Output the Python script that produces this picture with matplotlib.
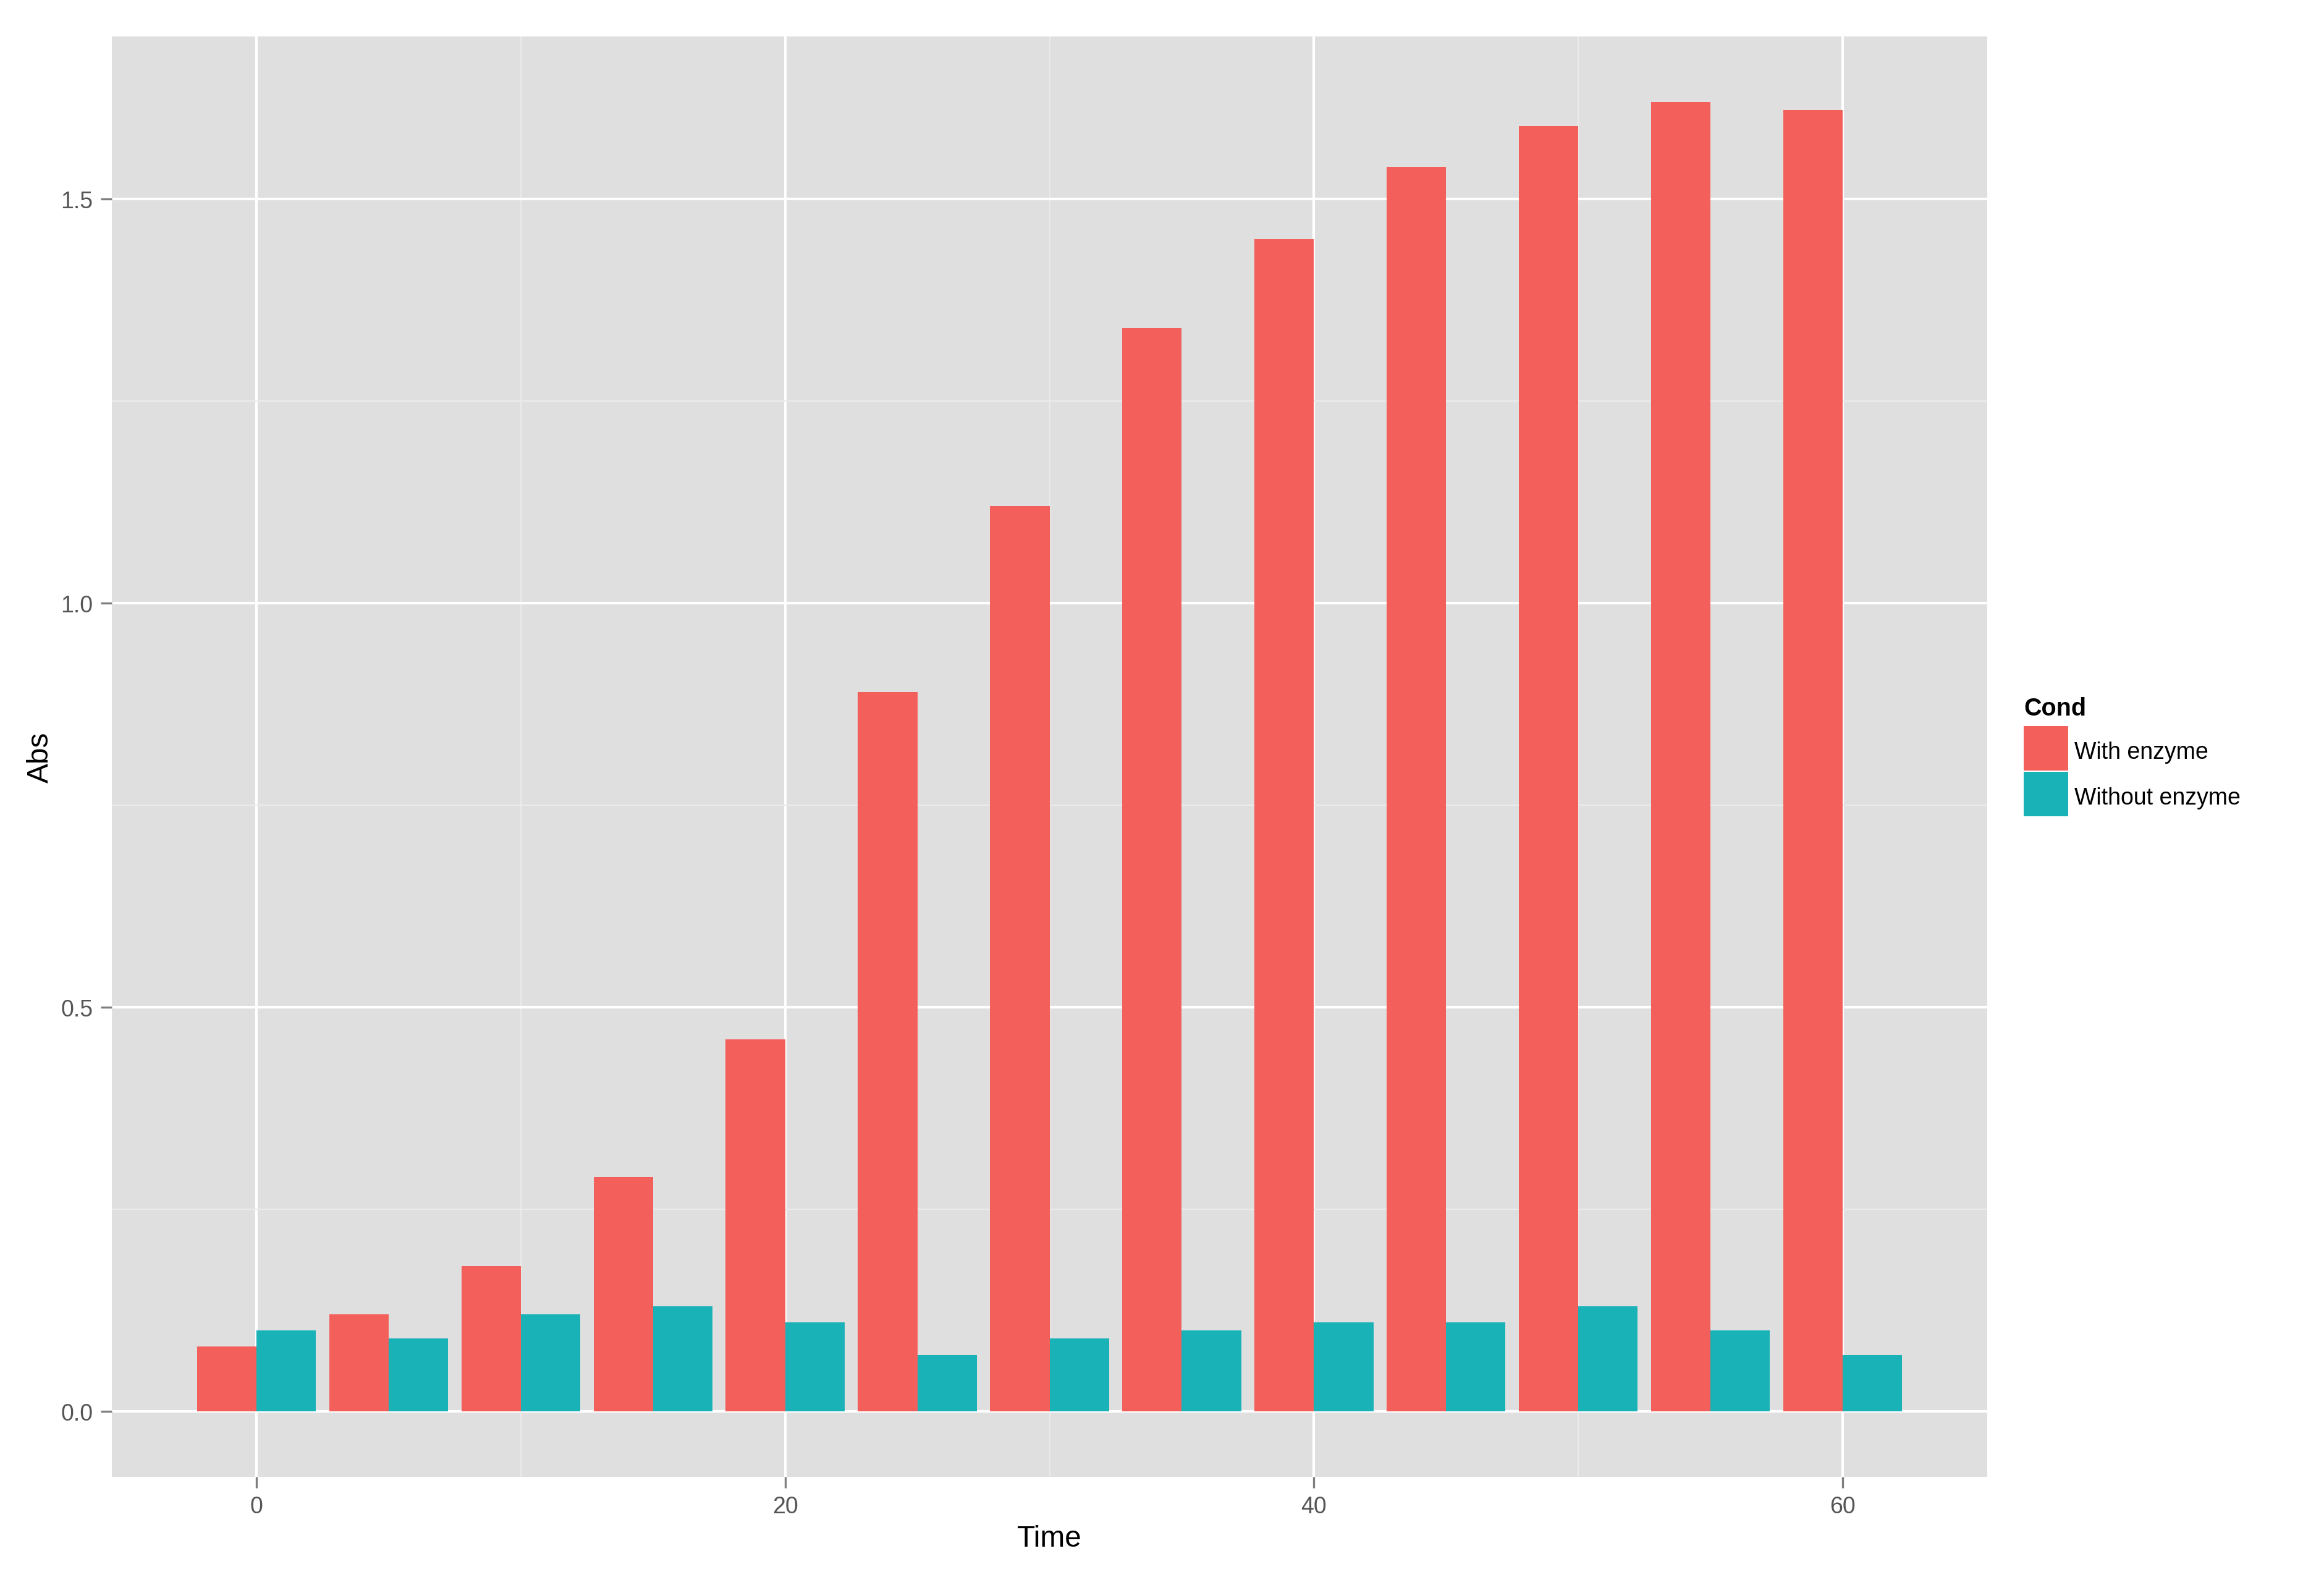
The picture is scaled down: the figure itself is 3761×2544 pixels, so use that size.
import matplotlib
matplotlib.use("Agg")
import matplotlib.pyplot as plt
import matplotlib.patches as mpatches
import numpy as np

# data
times = [0, 5, 10, 15, 20, 25, 30, 35, 40, 45, 50, 55, 60]
with_enzyme = [0.08, 0.12, 0.18, 0.29, 0.46, 0.89, 1.12, 1.34, 1.45, 1.54, 1.59, 1.62, 1.61]
without_enzyme = [0.10, 0.09, 0.12, 0.13, 0.11, 0.07, 0.09, 0.10, 0.11, 0.11, 0.13, 0.10, 0.07]
conditions = ["With enzyme", "Without enzyme"]
colors = ["#F35F5B", "#19B2B7"]

plt.rcParams["font.family"] = ["Liberation Sans", "DejaVu Sans"]

W, H = 3762, 2545
fig = plt.figure(figsize=(W / 300, H / 300), dpi=300)
ax = fig.add_axes([0.0481, 0.0605, 0.8068, 0.9159])
ax.set_facecolor("#DFDFDF")

t = np.array(times, dtype=float)
bw = 0.9 * 5 / 2
ax.bar(t - bw / 2, with_enzyme, width=bw, color=colors[0], label=conditions[0], zorder=3)
ax.bar(t + bw / 2, without_enzyme, width=bw, color=colors[1], label=conditions[1], zorder=3)

ax.set_xlim(-5.475, 65.475)
ax.set_ylim(-0.081, 1.701)

ax.set_xticks([0, 20, 40, 60])
ax.set_xticks([10, 30, 50], minor=True)
ax.set_yticks([0.0, 0.5, 1.0, 1.5])
ax.set_yticklabels(["0.0", "0.5", "1.0", "1.5"])
ax.set_yticks([0.25, 0.75, 1.25], minor=True)

ax.grid(which="major", color="white", linewidth=1.0, zorder=1)
ax.grid(which="minor", color="#EBEBEB", linewidth=0.5, zorder=1)
ax.set_axisbelow(True)

for s in ax.spines.values():
    s.set_visible(False)

ax.tick_params(which="major", length=4.3, width=0.8, color="#7F7F7F",
               labelsize=9, labelcolor="#555555", pad=3)
ax.tick_params(which="minor", length=0)

ax.set_xlabel("Time", fontsize=11.5, labelpad=2.5)
ax.set_ylabel("Abs", fontsize=11.5, labelpad=2.5)

# --- legend, ggplot style: square keys stacked without gaps ---
def fx(px):
    return px / W

def fy(py):
    return 1 - py / H

key_left, key_size, key_top = 3275, 72, 1176
fig.text(fx(key_left), fy(1147), "Cond", fontsize=9.5, fontweight="bold",
         ha="left", va="center")
for i, (lab, col) in enumerate(zip(conditions, colors)):
    top = key_top + i * (key_size + 2)
    fig.patches.append(mpatches.Rectangle(
        (fx(key_left), fy(top + key_size)), key_size / W, key_size / H,
        transform=fig.transFigure, facecolor=col, edgecolor="none"))
    fig.text(fx(key_left + key_size + 10), fy(top + key_size / 2 + 6), lab,
             fontsize=9, ha="left", va="center")

fig.savefig("out.png", dpi=300, facecolor="white")
